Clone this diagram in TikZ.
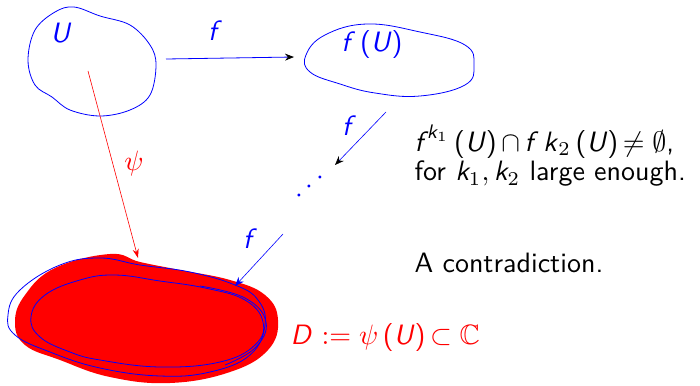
\documentclass[tikz,border=0pt]{standalone}
\usepackage{amsmath,amssymb}
\usetikzlibrary{arrows.meta}
\newcommand{\si}[1]{\textsf{\itshape #1}}
\begin{document}
\begin{tikzpicture}[x=1pt,y=-1pt,
  lbl/.style={font=\sffamily, inner sep=0pt, scale=2.8},
  dotl/.style={font=\sffamily, inner sep=0pt, scale=2.8, text=blue},
  bl/.style={draw=blue, line width=0.8pt},
  tipk/.style={-{Stealth[length=9pt,width=7pt,color=black]}}]
\useasboundingbox (0,0) rectangle (700,385);
% red region
\fill[red] plot[smooth cycle, tension=0.7] coordinates {(15,322) (25,295) (55,268) (110,254) (140,262) (180,270) (230,280) (265,295) (278,320) (268,350) (230,372) (170,383) (110,377) (60,360) (25,345)};
% blue curves in D
\draw[bl] plot[smooth cycle, tension=0.7] coordinates {(8,315) (20,290) (60,265) (100,258) (140,265) (190,272) (235,285) (258,300) (265,325) (250,355) (210,372) (160,376) (100,368) (50,352) (15,335)};
\draw[bl] plot[smooth cycle, tension=0.7] coordinates {(31,317) (45,295) (80,280) (115,275) (160,281) (205,288) (245,300) (263,322) (255,345) (220,362) (160,367) (100,360) (70,352) (40,337)};
\draw[bl] plot[smooth, tension=0.7] coordinates {(200,286) (245,298) (266,322) (255,348) (225,365)};
% U blob
\draw[bl] plot[smooth cycle, tension=0.6] coordinates {(74,7) (100,16) (130,25) (150,45) (156,65) (150,95) (130,110) (100,116) (70,110) (52,97) (35,85) (28,60) (35,30) (55,12)};
\node[lbl, text=blue] (U) at (61,33) {\si{U}};
% f(U) blob
\draw[bl] plot[smooth cycle, tension=0.7] coordinates {(367,24) (420,32) (465,45) (474,65) (465,85) (420,96) (375,93) (340,84) (310,72) (306,55) (325,35)};
\node[lbl, text=blue] (fU) at (372,45) {\si{f}\,(\si{U})};
% arrows
\coordinate (a1) at (166,59); \coordinate (a2) at (294,57);
\draw[blue, line width=0.8pt, tipk] (a1) -- (a2);
\node[lbl, text=blue] (f1) at (215,31) {\si{f}};
\coordinate (b1) at (386,112); \coordinate (b2) at (335,165);
\draw[blue, line width=0.6pt, tipk] (b1) -- (b2);
\node[lbl, text=blue] (f2) at (349,126) {\si{f}};
\node[dotl] (d1) at (299,196) {$\cdot$};
\node[dotl] (d2) at (309,187) {$\cdot$};
\node[dotl] (d3) at (320,178) {$\cdot$};
\coordinate (c1) at (283,234); \coordinate (c2) at (235,286);
\draw[blue, line width=0.6pt, -{Stealth[length=9pt,width=7pt]}] (c1) -- (c2);
\node[lbl, text=blue] (f3) at (250,239) {\si{f}};
\coordinate (p1) at (88,71); \coordinate (p2) at (138,258);
\draw[red, line width=0.6pt, -{Stealth[length=9pt,width=6pt]}] (p1) -- (p2);
\node[lbl, text=red] (psi) at (134,163) {$\psi$};
% texts
\node[lbl, anchor=west] (t1) at (414,142) {$\si{f}^{\,\si{k}_1}$\,(\si{U})\,$\cap$\,\si{f}\,\si{k}$_2$\,(\si{U})\,$\neq\emptyset$,};
\node[lbl, anchor=west] (t2) at (414,174) {for $\si{k}_1,\si{k}_2$ large enough.};
\node[lbl, anchor=west] (t3) at (414,263) {A contradiction.};
\node[lbl, anchor=west, text=red] (t4) at (290,337) {\si{D} $:=\psi$\,(\si{U})\,$\subset\mathbb{C}$};
\end{tikzpicture}
\end{document}
